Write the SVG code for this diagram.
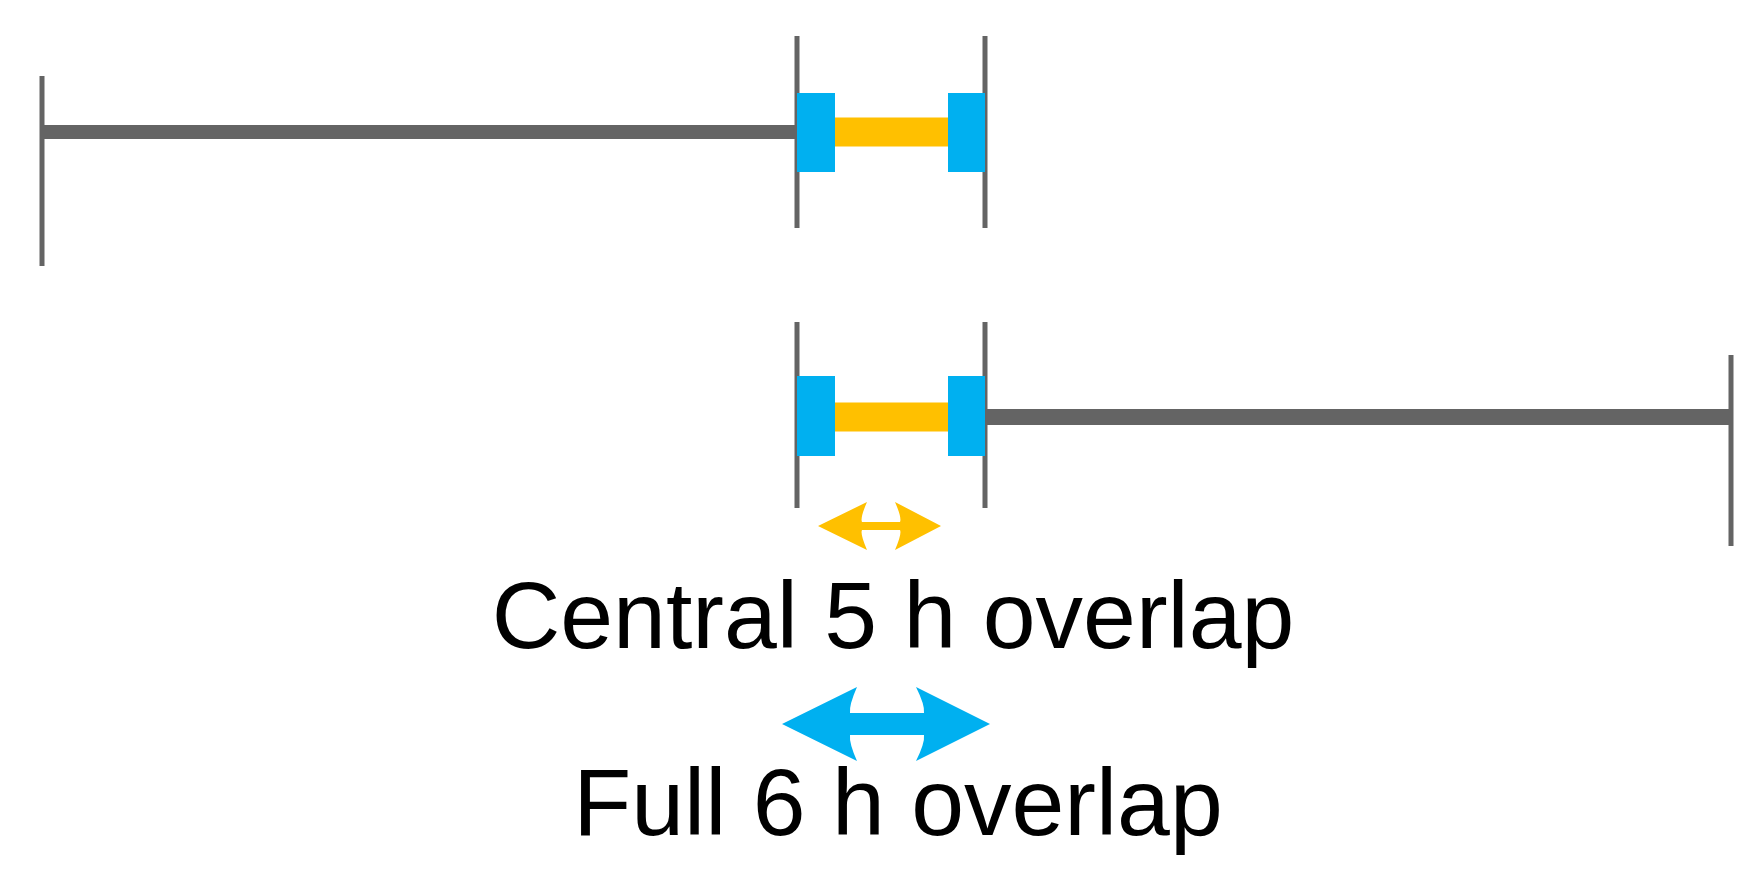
<svg xmlns="http://www.w3.org/2000/svg" width="1761" height="882" viewBox="0 0 1761 882">
<style>
.g{stroke:#646464;fill:none}
.t{stroke:#646464;stroke-width:5}
.b{fill:#00B0F0}
.y{stroke:#FFC000;stroke-width:29}
text{font-family:"Liberation Sans",Arial,sans-serif;font-size:95px;fill:#000;text-anchor:middle}
</style>
<rect width="1761" height="882" fill="#fff"/>
<g id="row1">
<line class="g" x1="42" y1="132" x2="797" y2="132" stroke-width="14"/>
<line class="t" x1="42" y1="76" x2="42" y2="266"/>
<line class="t" x1="797" y1="36" x2="797" y2="228"/>
<line class="t" x1="985" y1="36" x2="985" y2="228"/>
<line class="y" x1="835" y1="132" x2="948" y2="132"/>
<rect class="b" x="797" y="93" width="38" height="79"/>
<rect class="b" x="948" y="93" width="37" height="79"/>
</g>
<g id="row2">
<line class="g" x1="985" y1="417" x2="1731" y2="417" stroke-width="16"/>
<line class="t" x1="1731" y1="355" x2="1731" y2="546"/>
<line class="t" x1="797" y1="322" x2="797" y2="508"/>
<line class="t" x1="985" y1="322" x2="985" y2="508"/>
<line class="y" x1="835" y1="417" x2="948" y2="417"/>
<rect class="b" x="797" y="376" width="38" height="80"/>
<rect class="b" x="948" y="376" width="37" height="80"/>
</g>
<g id="connectors">
<path d="M818 526 L867 502 Q860 518 862 522 L900 522 Q902 518 895 502 L941 526 L895 550 Q902 534 900 530 L862 530 Q860 534 867 550 Z" fill="#FFC000"/>
<path d="M782 724 L857 687 Q849 705 850 713 L924 713 Q925 705 916 687 L990 724 L916 761 Q925 743 924 735 L850 735 Q849 743 857 761 Z" fill="#00B0F0"/>
</g>
<g id="labels">
<text x="893" y="648">Central 5 h overlap</text>
<text x="898" y="835">Full 6 h overlap</text>
</g>
</svg>
